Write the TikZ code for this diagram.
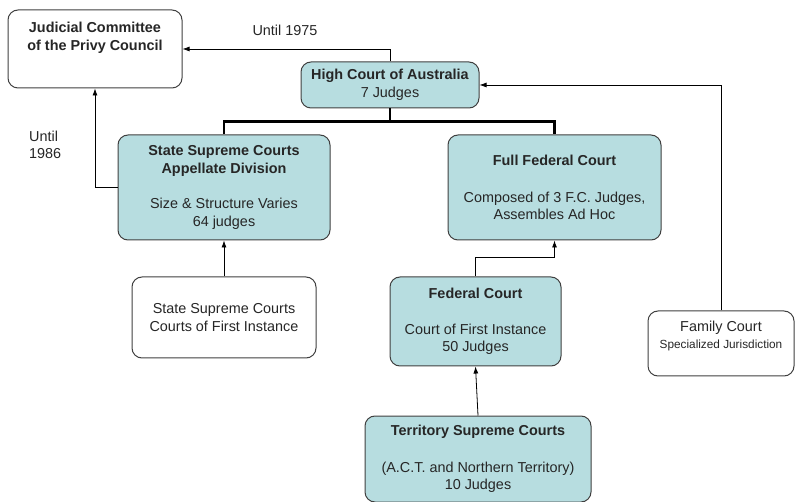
\documentclass[tikz,border=0pt]{standalone}
\usepackage{fontspec}
\setmainfont{Liberation Sans}
\usetikzlibrary{arrows.meta}
\definecolor{courtfill}{RGB}{183,221,224}
\definecolor{courtline}{RGB}{64,64,64}

\begin{document}
\begin{tikzpicture}[x=1pt, y=-1pt,
  nodes={font=\fontsize{14.4}{17.5}\selectfont, align=center, inner sep=0pt, text=black!85},
  plain court/.style={draw=courtline, line width=1pt, rounded corners=10pt, fill=white},
  filled court/.style={plain court, fill=courtfill},
  link/.style={-{Latex[length=7pt,width=5pt]}, line width=0.8pt},
  trunk/.style={line width=2.5pt}]
\useasboundingbox (0,0) rectangle (795,502);

\node[plain court, minimum width=174pt, minimum height=78pt] (JCPC) at (95,49)
  {\textbf{Judicial Committee}\\\textbf{of the Privy Council}\\[8pt]\mbox{}};
\node[filled court, minimum width=178pt, minimum height=46pt] (HCA) at (390,85)
  {\textbf{High Court of Australia}\\7 Judges};
\node[filled court, minimum width=212pt, minimum height=105pt] (SSCA) at (224,187.5)
  {\textbf{State Supreme Courts}\\\textbf{Appellate Division}\\[18pt]Size \& Structure Varies\\64 judges};
\node[filled court, minimum width=213pt, minimum height=105pt] (FFC) at (554.5,187.5)
  {\textbf{Full Federal Court}\\[19pt]Composed of 3 F.C. Judges,\\Assembles Ad Hoc};
\node[plain court, minimum width=184pt, minimum height=81pt] (SSCI) at (224,317.5)
  {State Supreme Courts\\Courts of First Instance};
\node[filled court, minimum width=171pt, minimum height=89pt] (FC) at (475.5,321.5)
  {\textbf{Federal Court}\\[18pt]Court of First Instance\\50 Judges};
\node[filled court, minimum width=226pt, minimum height=86pt] (TSC) at (478,459)
  {\textbf{Territory Supreme Courts}\\[19pt](A.C.T. and Northern Territory)\\10 Judges};
\node[plain court, minimum width=146pt, minimum height=65pt] (FAM) at (721,343.5)
  {Family Court\\{\fontsize{11.8}{14}\selectfont Specialized Jurisdiction}\\\mbox{}};

\node (U1975) at (285,30) {Until 1975};
\node[align=left, anchor=west] (U1986) at (29,145) {Until\\1986};

% appeals
\draw[link] (HCA.north) |- (JCPC.east);
\draw[link] (SSCA.west) -| (JCPC.south);
\draw[link] (SSCI.north) -- (SSCA.south);
\draw[link] (FC.north) -- ++(0,-19) -| (FFC.south);
\draw[link] (TSC.north) -- (FC.south);
\draw[link] (FAM.north) |- (HCA.east);

\draw[trunk] (SSCA.north) -- ++(0,-13) coordinate (T) -| (FFC.north);
\draw[trunk] (HCA.south) -- (HCA.south |- T);
\end{tikzpicture}
\end{document}
